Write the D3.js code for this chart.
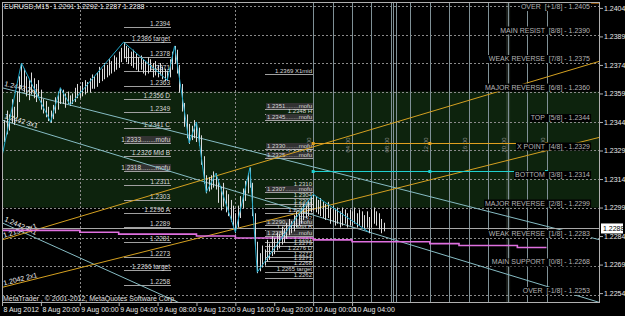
<!DOCTYPE html>
<html>
<head>
<meta charset="utf-8">
<script src="https://cdn.jsdelivr.net/npm/d3@7"></script>
<style>
  body { margin: 0; background: #000; }
  svg text { font-family: "Liberation Sans", Arial, sans-serif; }
</style>
</head>
<body>
<div id="chart"></div>
<script>

  // EURUSD M15 bars, first bar is 8 Aug 2012 16:00, one bar every 15 minutes
  var barHigh = [
    1.2338,1.2345,1.2350,1.2348,1.2356,1.2352,1.2360,1.2368,1.2375,
    1.2372,1.2368,1.2366,1.2370,1.2367,1.2364,1.2366,1.2361,1.2356,1.2355,1.2352,1.2350,
    1.2353,1.2357,1.2360,1.2362,
    1.2361,1.2359,1.2360,1.2358,
    1.2359,1.2362,1.2364,1.2363,1.2365,1.2366,1.2365,1.2367,1.2369,1.2368,1.2370,1.2373,1.2372,1.2375,1.2374,1.2377,1.2376,1.2379,1.2378,1.2381,1.2383,1.2386,
    1.2384,1.2383,1.2381,1.2382,1.2380,1.2378,1.2379,1.2377,1.2376,1.2378,1.2377,1.2375,1.2376,1.2374,1.2375,1.2373,1.2372,
    1.2371,1.2377,1.2381,1.2384,
    1.2382,1.2374,1.2364,1.2354,1.2348,
    1.2343,1.2342,1.2345,1.2344,1.2341,1.2337,1.2326,1.2316,1.2315,1.2316,1.2318,1.2317,
    1.2314,1.2310,1.2312,1.2308,1.2306,1.2303,1.2300,1.2296,
    1.2300,1.2305,1.2309,1.2313,1.2317,1.2320,1.2312,1.2296,1.2281,
    1.2275,1.2279,1.2277,1.2282,1.2280,1.2284,1.2283,1.2286,1.2285,1.2289,1.2288,1.2291,1.2293,1.2292,1.2295,1.2297,1.2296,1.2299,1.2301,1.2300,1.2303,1.2305,1.2306,
    1.2305,1.2303,1.2304,1.2302,1.2301,1.2302,1.2299,1.2300,1.2298,1.2299,1.2297,1.2299,1.2298,1.2296,1.2298,1.2297,1.2299,1.2296,1.2298,1.2297,1.2295,1.2297,1.2294,1.2298,1.2299,1.2297,1.2296,1.2293,1.2291
  ]
  var barLow = [
    1.2326,1.2334,1.2338,1.2340,1.2344,1.2343,1.2347,1.2355,1.2362,
    1.2360,1.2358,1.2356,1.2359,1.2357,1.2355,1.2358,1.2351,1.2349,1.2347,1.2345,1.2344,
    1.2346,1.2349,1.2351,1.2354,
    1.2354,1.2352,1.2354,1.2353,
    1.2354,1.2355,1.2357,1.2357,1.2358,1.2359,1.2360,1.2360,1.2362,1.2362,1.2363,1.2365,1.2366,1.2367,1.2368,1.2369,1.2370,1.2371,1.2372,1.2373,1.2376,1.2378,
    1.2376,1.2375,1.2374,1.2373,1.2372,1.2371,1.2372,1.2370,1.2369,1.2370,1.2371,1.2368,1.2369,1.2368,1.2369,1.2367,1.2366,
    1.2366,1.2368,1.2372,1.2375,
    1.2370,1.2360,1.2350,1.2342,1.2336,
    1.2333,1.2335,1.2336,1.2334,1.2332,1.2322,1.2312,1.2307,1.2308,1.2309,1.2310,1.2309,
    1.2302,1.2298,1.2300,1.2297,1.2295,1.2292,1.2289,1.2286,
    1.2289,1.2294,1.2299,1.2303,1.2307,1.2310,1.2295,1.2278,1.2265,
    1.2266,1.2268,1.2269,1.2271,1.2272,1.2274,1.2275,1.2277,1.2278,1.2280,1.2281,1.2283,1.2285,1.2286,1.2287,1.2289,1.2290,1.2291,1.2293,1.2294,1.2295,1.2297,1.2298,
    1.2297,1.2296,1.2295,1.2294,1.2293,1.2294,1.2291,1.2292,1.2290,1.2291,1.2289,1.2290,1.2291,1.2289,1.2290,1.2290,1.2291,1.2289,1.2290,1.2289,1.2288,1.2289,1.2286,1.2289,1.2291,1.2290,1.2288,1.2286,1.2287
  ]

  // zigzag pivots: [bar index, price]
  var zigzag = [[0,1.2326],[8,1.2375],[20,1.2344],[24,1.2362],[28,1.2353],[50,1.2386],[68,1.2366],[71,1.2384],
                [77,1.2333],[80,1.2344],[84,1.2307],[88,1.2317],[96,1.2286],[102,1.2320],[105,1.2265],[128,1.2306],[151,1.2286]]

  // murrey math levels
  var murreyLevels = [1.2405,1.2390,1.2375,1.2360,1.2344,1.2329,1.2314,1.2299,1.2283,1.2268,1.2253]
  var murreyNames = ["OVER  [+1/8]","MAIN RESIST  [8/8]","WEAK REVERSE  [7/8]","MAJOR REVERSE  [6/8]","TOP  [5/8]",
                     "X POINT  [4/8]","BOTTOM  [3/8]","MAJOR REVERSE  [2/8]","WEAK REVERSE  [1/8]","MAIN SUPPORT  [0/8]","OVER  [-1/8]"]
  var greenZone = [1.2360, 1.2299]

  var priceTicks = [1.2404,1.2389,1.2374,1.2359,1.2344,1.2329,1.2314,1.2299,1.2284,1.2269,1.2254]
  var lastPrice = 1.2288

  // first fib column (from the 9 Aug 04:30 high)
  var fibAPrice = [1.2394,1.2386,1.2378,1.2371,1.2363,1.2356,1.2349,1.2341,1.2333,1.2326,1.2318,1.2311,1.2303,1.2296,1.2289,1.2281,1.2273,1.2266,1.2258]
  var fibATag = ["","target","","","","D","","C","........mofu","Mid B","........mofu","","","A","","","","target",""]

  // second fib column
  var fibBPrice = [1.2369,1.2351,1.2348,1.2345,1.2330,1.2327,1.2325,
                   1.2310,1.2307,1.2304,1.2301,1.2299,1.2296,1.2292,1.2290,1.2287,1.2284,1.2281,1.2279,1.2276,1.2273,1.2271,1.2268,1.2265,1.2262]
  var fibBTag = ["X1mid","........mofu","H","........mofu","........mofu","G","........mofu",
                 "","........mofu","","","","A","","........mofu","Mid B","........mofu","","","D","","","","target",""]

  // gann lines: price at left edge, price at right edge, label
  var gannStart = [1.2362,1.2345,1.2291,1.2282,1.2257]
  var gannEnd   = [1.2282,1.2249,1.2149,1.2376,1.2336]
  var gannNames = ["1.2442 2x1","1.2442 3x1","1.2442 4x1","1.2134 2x1","1.2042 2x1"]
  var gannColors = ["#86bcc4","#86bcc4","#86bcc4","#d4a020","#d4a020"]

  // magenta average line: [time, price]
  var maLine = [[new Date(2012,7,8,15,50),1.2287],[new Date(2012,7,8,20,0),1.2287],[new Date(2012,7,9,0,0),1.2286],
                [new Date(2012,7,9,4,0),1.2285],[new Date(2012,7,9,12,0),1.2284],[new Date(2012,7,9,16,0),1.2283],
                [new Date(2012,7,10,0,0),1.2282],[new Date(2012,7,10,4,0),1.2281],[new Date(2012,7,10,12,0),1.2280],
                [new Date(2012,7,10,15,0),1.2279],[new Date(2012,7,10,21,0),1.2278],[new Date(2012,7,11,0,0),1.2278]]

  var orangeLevel = 1.2333
  var cyanLevel = 1.2318

  var timeTicks = [new Date(2012,7,8,16,0),new Date(2012,7,8,20,0),new Date(2012,7,9,0,0),new Date(2012,7,9,4,0),
                   new Date(2012,7,9,8,0),new Date(2012,7,9,12,0),new Date(2012,7,9,16,0),new Date(2012,7,9,20,0),
                   new Date(2012,7,10,0,0),new Date(2012,7,10,4,0)]

  var t0 = new Date(2012,7,8,16,0)
  function barTime(i) { return new Date(t0.getTime() + i * 15 * 60000) }
  function hoursAfter(d, h) { return new Date(d.getTime() + h * 3600000) }

  var W = 625, H = 316

  var svg = d3.select("#chart").append("svg")
      .attr("width", W)
      .attr("height", H)
      .style("background", "#000")

  var x = d3.scaleTime().domain([t0, new Date(2012,7,11,5,30)]).range([2, 600])
  var y = d3.scaleLinear().domain([1.2405, 1.2253]).range([6, 295])

  svg.append("clipPath").attr("id", "plot")
    .append("rect").attr("x", 2).attr("y", 2).attr("width", 598).attr("height", 301)

  var g = svg.append("g").attr("clip-path", "url(#plot)")

  // green zone
  g.append("rect")
      .attr("x", 2).attr("width", 598)
      .attr("y", y(greenZone[0]))
      .attr("height", y(greenZone[1]) - y(greenZone[0]))
      .attr("fill", "#0d230d")

  // dotted grid on the murrey levels
  g.selectAll(".hgrid")
      .data(murreyLevels)
    .enter().append("line")
      .attr("x1", 2).attr("x2", 600)
      .attr("y1", function(d) { return Math.round(y(d)) + 0.5 })
      .attr("y2", function(d) { return Math.round(y(d)) + 0.5 })
      .attr("stroke", "#8a8a8a")
      .attr("stroke-dasharray", "2,2")

  // dotted vertical grid every 16 hours
  var gridTimes = [new Date(2012,7,9,0,0), new Date(2012,7,9,16,0), new Date(2012,7,10,8,0), new Date(2012,7,11,0,0)]
  g.selectAll(".vgrid")
      .data(gridTimes)
    .enter().append("line")
      .attr("x1", function(d) { return Math.round(x(d)) + 0.5 })
      .attr("x2", function(d) { return Math.round(x(d)) + 0.5 })
      .attr("y1", 2).attr("y2", 303)
      .attr("stroke", "#8a8a8a")
      .attr("stroke-dasharray", "2,2")

  // vertical time lines in the future part
  var vlineTimes = []
  for (var k = 0; k <= 12; k++) vlineTimes.push(hoursAfter(new Date(2012,7,10,0,0), 2 * k))
  vlineTimes.push(new Date(2012,7,10,8,15), new Date(2012,7,10,8,30))

  // faint band behind the 20:00 line
  g.append("rect")
      .attr("x", x(vlineTimes[10]) - 1.5).attr("y", 2)
      .attr("width", 4).attr("height", 301)
      .attr("fill", "#6f806f")
      .attr("opacity", 0.25)

  g.selectAll(".vline")
      .data(vlineTimes)
    .enter().append("line")
      .attr("x1", function(d) { return Math.round(x(d)) + 0.5 })
      .attr("x2", function(d) { return Math.round(x(d)) + 0.5 })
      .attr("y1", 2).attr("y2", 303)
      .attr("stroke", "#7f9096")

  // rotated hour labels on the vertical lines
  g.selectAll(".vlabel")
      .data(vlineTimes.filter(function(d, i) { return i <= 12 && i % 2 == 0 }))
    .enter().append("text")
      .attr("transform", function(d) { return "translate(" + (x(d) - 2) + ",145) rotate(-90)" })
      .attr("text-anchor", "middle")
      .attr("font-size", "6px")
      .attr("fill", "#8c8c8c")
      .text(d3.timeFormat("%H:%M"))

  // fib columns
  function drawFib(prices, tags, from, to, size) {
    var grp = g.append("g")
    var x1 = Math.round(x(from)), x2 = Math.round(x(to))
    prices.forEach(function(p, i) {
      var yy = Math.round(y(p)) + 0.5
      grp.append("line")
          .attr("x1", x1).attr("x2", x2)
          .attr("y1", yy).attr("y2", yy)
          .attr("stroke", "#a0a0a0")
      var tag = tags[i]
      var label = p.toFixed(4) + (tag.charAt(0) == "." ? tag : (tag ? " " + tag : ""))
      var t = grp.append("text")
          .attr("x", x2 - 1)
          .attr("y", yy - 1.5)
          .attr("text-anchor", "end")
          .attr("font-size", size)
          .attr("fill", "#d8d8d8")
          .text(label)
      if (tag.indexOf("mofu") >= 0) {
        var b = t.node().getBBox()
        grp.insert("rect", function() { return t.node() })
            .attr("x", x1 + 1).attr("y", b.y)
            .attr("width", x2 - x1 - 1).attr("height", b.height)
            .attr("fill", "#333")
      }
    })
  }
  drawFib(fibAPrice, fibATag, barTime(50), new Date(2012,7,9,9,24), "6.5px")
  drawFib(fibBPrice, fibBTag, barTime(108), new Date(2012,7,10,0,0), "6px")

  // gann lines
  var tEnd = x.domain()[1]
  gannStart.forEach(function(p, i) {
    var ax = x(t0), ay = y(p), bx = x(tEnd), by = y(gannEnd[i])
    g.append("line")
        .attr("x1", ax).attr("y1", ay).attr("x2", bx).attr("y2", by)
        .attr("stroke", gannColors[i])
    var ang = Math.atan2(by - ay, bx - ax) * 180 / Math.PI
    g.append("text")
        .attr("transform", "translate(" + (ax + 2) + "," + (ay - 2) + ") rotate(" + ang + ")")
        .attr("font-size", "7px")
        .attr("fill", "#f0f0f0")
        .text(gannNames[i])
  })

  // magenta line
  g.append("path")
      .datum(maLine)
      .attr("d", d3.line().curve(d3.curveStepAfter)
          .x(function(d) { return x(d[0]) })
          .y(function(d) { return y(d[1]) }))
      .attr("fill", "none")
      .attr("stroke", "#e070e0")
      .attr("stroke-width", 1.6)

  // bid line
  g.append("line")
      .attr("x1", 2).attr("x2", 600)
      .attr("y1", Math.round(y(lastPrice)) + 0.5).attr("y2", Math.round(y(lastPrice)) + 0.5)
      .attr("stroke", "#a8a8a8")

  // bars
  g.selectAll(".bar")
      .data(barHigh)
    .enter().append("line")
      .attr("class", "bar")
      .attr("x1", function(d, i) { return Math.round(x(barTime(i))) + 0.5 })
      .attr("x2", function(d, i) { return Math.round(x(barTime(i))) + 0.5 })
      .attr("y1", function(d) { return y(d) })
      .attr("y2", function(d, i) { return y(barLow[i]) + 1 })
      .attr("stroke", "#dcdcdc")

  // zigzag
  g.append("path")
      .datum(zigzag)
      .attr("d", d3.line()
          .x(function(d) { return x(barTime(d[0])) })
          .y(function(d) { return y(d[1]) }))
      .attr("fill", "none")
      .attr("stroke", "#1ea6c8")

  // orange and cyan levels
  var levelFrom = new Date(2012,7,10,0,0), levelTo = new Date(2012,7,11,0,0)
  var levelDots = [levelFrom, new Date(2012,7,10,12,0), levelTo]
  ;[[orangeLevel, "#e0a020"], [cyanLevel, "#20d0d0"]].forEach(function(lv) {
    var yy = Math.round(y(lv[0])) + 0.5
    g.append("line")
        .attr("x1", x(levelFrom)).attr("x2", x(levelTo))
        .attr("y1", yy).attr("y2", yy)
        .attr("stroke", lv[1])
    g.selectAll(null)
        .data(levelDots)
      .enter().append("rect")
        .attr("x", function(d) { return x(d) - 1.5 })
        .attr("y", yy - 1.5)
        .attr("width", 3).attr("height", 3)
        .attr("fill", lv[1])
  })

  // orange over-line at the top right
  g.append("line")
      .attr("x1", x(new Date(2012,7,11,2,15))).attr("x2", 600)
      .attr("y1", 2.5).attr("y2", 2.5)
      .attr("stroke", "#ff8c00")
      .attr("stroke-width", 2)

  // murrey labels
  murreyLevels.forEach(function(lv, i) {
    var t = g.append("text")
        .attr("x", 590)
        .attr("y", Math.max(y(lv) - 2, 9))
        .attr("text-anchor", "end")
        .attr("font-size", "7px")
        .attr("fill", "#b4b4b4")
        .style("white-space", "pre")
        .text(murreyNames[i] + " - " + lv.toFixed(4))
    var b = t.node().getBBox()
    g.insert("rect", function() { return t.node() })
        .attr("x", b.x - 1).attr("y", b.y)
        .attr("width", b.width + 2).attr("height", b.height)
        .attr("fill", "#000")
  })

  // frame
  svg.append("rect")
      .attr("x", 2.5).attr("y", 2.5)
      .attr("width", 597).attr("height", 300)
      .attr("fill", "none")
      .attr("stroke", "#b0b0b0")

  // price axis
  var yAxis = d3.axisRight(y).tickValues(priceTicks).tickSize(3).tickFormat(d3.format(".4f"))
  var ya = svg.append("g")
      .attr("class", "y axis")
      .attr("transform", "translate(600,0)")
      .call(yAxis)
  ya.select(".domain").remove()
  ya.selectAll("line").attr("stroke", "#b0b0b0")
  ya.selectAll("text").attr("fill", "#e8e8e8").attr("font-size", "7px").attr("x", 4)

  // current price box
  var py = y(lastPrice)
  svg.append("rect")
      .attr("x", 601).attr("y", py - 5)
      .attr("width", 22).attr("height", 10)
      .attr("fill", "#fff")
  svg.append("text")
      .attr("x", 603).attr("y", py + 2.5)
      .attr("font-size", "7px")
      .attr("fill", "#000")
      .text(lastPrice.toFixed(4))

  // time axis
  var fmt = d3.timeFormat("%-d %b %H:%M")
  var xAxis = d3.axisBottom(x).tickValues(timeTicks).tickSize(3)
      .tickFormat(function(d) { return d.getTime() == t0.getTime() ? "8 Aug 2012" : fmt(d) })
  var xa = svg.append("g")
      .attr("class", "x axis")
      .attr("transform", "translate(0,303)")
      .call(xAxis)
  xa.select(".domain").remove()
  xa.selectAll("line").attr("stroke", "#b0b0b0")
  xa.selectAll("text")
      .attr("fill", "#e8e8e8")
      .attr("font-size", "7px")
      .attr("text-anchor", "start")
      .attr("x", 1)
      .attr("y", 4)

  // header and copyright
  svg.append("text")
      .attr("x", 4).attr("y", 9)
      .attr("font-size", "7px")
      .attr("fill", "#f0f0f0")
      .style("white-space", "pre")
      .text("EURUSD,M15  1.2291 1.2292 1.2287 1.2288")

  svg.append("text")
      .attr("x", 3).attr("y", 301)
      .attr("font-size", "7px")
      .attr("fill", "#e0e0e0")
      .text("MetaTrader , © 2001-2012, MetaQuotes Software Corp.")

</script>
</body>
</html>
